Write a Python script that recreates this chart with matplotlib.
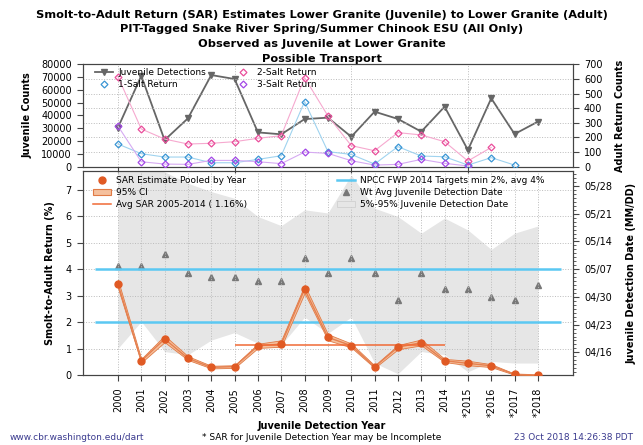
import numpy as np
import matplotlib
matplotlib.use("Agg")
import matplotlib.pyplot as plt
from matplotlib.lines import Line2D
from matplotlib.patches import Patch

# data
years = list(range(2000, 2019))
year_labels = [str(y) for y in range(2000, 2015)] + ["*2015", "*2016", "*2017", "*2018"]

juv_counts = [30500, 71000, 20800, 37800, 71600, 68500, 26800, 25300, 37200, 38300,
              23400, 43000, 37300, 27400, 46900, 13000, 53400, 25500, 35200]

salt1 = [155, 89, 66, 66, 27, 27, 50, 75, 445, 103, 84, 18, 137, 73, 68, 11, 62, 11]
salt2 = [616, 258, 189, 155, 160, 171, 194, 212, 609, 347, 144, 109, 233, 217, 171, 39, 132]
salt3 = [278, 34, 18, 16, 43, 43, 34, 21, 100, 91, 41, 11, 16, 50, 23, 5]

sar = [3.44, 0.54, 1.37, 0.64, 0.30, 0.33, 1.11, 1.18, 3.25, 1.43,
       1.12, 0.32, 1.06, 1.23, 0.55, 0.45, 0.36, 0.04, 0.01]
sar_lo = [3.30, 0.48, 1.25, 0.58, 0.26, 0.28, 1.03, 1.08, 3.10, 1.32,
          1.05, 0.28, 0.98, 1.13, 0.50, 0.38, 0.31, 0.02, 0.00]
sar_hi = [3.60, 0.62, 1.50, 0.72, 0.36, 0.38, 1.19, 1.32, 3.40, 1.55,
          1.20, 0.37, 1.14, 1.35, 0.62, 0.55, 0.42, 0.06, 0.02]
avg_sar = 1.16

# day of year (non leap year): 5%, weighted avg, 95%
det_lo = [107.0, 113.8, 106.2, 105.4, 109.1, 111.0, 108.3, 107.9, 114.9, 110.8,
          114.9, 103.3, 100.6, 106.2, 105.4, 101.1, 103.7, 103.3, 103.3]
det_avg = [127.9, 127.9, 130.9, 126.0, 125.0, 125.0, 123.9, 123.9, 129.8, 126.0,
           129.9, 126.0, 119.2, 126.0, 122.0, 122.0, 120.0, 119.2, 123.0]
det_hi = [155.0, 153.0, 151.6, 148.7, 146.6, 144.9, 140.3, 138.0, 142.0, 141.2,
          150.8, 142.4, 140.3, 136.1, 139.9, 136.9, 132.0, 136.1, 137.9]

date_ticks = [106, 113, 120, 127, 134, 141, 148]
date_labels = ["04/16", "04/23", "04/30", "05/07", "05/14", "05/21", "05/28"]

plt.rcParams['font.family'] = ['DejaVu Sans']
fig = plt.figure(figsize=(6.43, 4.45), dpi=100)

spine_col = "#444444"
grid_kw = dict(color="#bbbbbb", linestyle=":", linewidth=0.7)
lab_kw = dict(fontsize=7, fontweight="bold")

# ---------- top panel ----------
ax1 = fig.add_axes([0.129, 0.6254, 0.762, 0.2301])
ax1r = ax1.twinx()

ln_juv, = ax1.plot(years, juv_counts, color="#666666", lw=1.3, marker="v",
                   ms=5, label="Juvenile Detections", zorder=3)
ax1r.plot(years[:len(salt1)], salt1, color="#9fd3ef", lw=0.8, zorder=2)
ax1r.plot(years[:len(salt1)], salt1, ls="none", marker="D", ms=3.5, mfc="none",
          mec="#3a95d4", mew=0.9, zorder=3)
ax1r.plot(years[:len(salt2)], salt2, color="#f6a9cf", lw=0.8, zorder=2)
ax1r.plot(years[:len(salt2)], salt2, ls="none", marker="D", ms=3.5, mfc="none",
          mec="#ea4d9b", mew=0.9, zorder=3)
ax1r.plot(years[:len(salt3)], salt3, color="#d6aaf2", lw=0.8, zorder=2)
ax1r.plot(years[:len(salt3)], salt3, ls="none", marker="D", ms=3.5, mfc="none",
          mec="#a347e6", mew=0.9, zorder=3)

ax1.set_xlim(1998.5, 2019.5)
ax1.set_ylim(0, 80000)
ax1r.set_ylim(0, 700)
ax1.set_yticks(range(0, 80001, 10000))
ax1r.set_yticks(range(0, 701, 100))
ax1.set_xticks([2000, 2005, 2010, 2015])
ax1.set_xticklabels([])
ax1.xaxis.grid(True, **grid_kw)
ax1r.yaxis.grid(True, **grid_kw)
ax1.set_ylabel("Juvenile Counts", **lab_kw)
ax1r.set_ylabel("Adult Return Counts", **lab_kw)
ax1.yaxis.set_label_coords(-0.114, 0.5)
ax1r.yaxis.set_label_coords(1.096, 0.5)
for a in (ax1, ax1r):
    a.yaxis.label.set_va("center")
    a.tick_params(labelsize=7, length=4, color=spine_col, pad=4)
    for s in a.spines.values():
        s.set_color(spine_col)

h_top = [ln_juv,
         Line2D([], [], ls="none", marker="D", ms=3.5, mfc="none", mec="#3a95d4", mew=0.9),
         Line2D([], [], ls="none", marker="D", ms=3.5, mfc="none", mec="#ea4d9b", mew=0.9),
         Line2D([], [], ls="none", marker="D", ms=3.5, mfc="none", mec="#a347e6", mew=0.9)]
ax1r.legend(h_top, ["Juvenile Detections", "1-Salt Return", "2-Salt Return", "3-Salt Return"],
            ncol=2, frameon=False, fontsize=6.5, loc="upper left",
            bbox_to_anchor=(0.024, 0.96), borderaxespad=0, borderpad=0,
            handlelength=2, handletextpad=0.6, labelspacing=0.3, columnspacing=3.1)

# ---------- bottom panel ----------
ax = fig.add_axes([0.129, 0.1566, 0.762, 0.4591])
ax2 = ax.twinx()
ax.set_zorder(ax2.get_zorder() + 1)
ax.patch.set_visible(False)

ax2.fill_between(years, det_lo, det_hi, color="#e6e6e6", lw=0, zorder=1)
ax2.plot(years, det_avg, ls="none", marker="^", ms=5, color="#777777", zorder=3)

ax.hlines([2, 4], 1999, 2019, color="#5bc8f2", lw=1.8, zorder=2)
ax.fill_between(years, sar_lo, sar_hi, color="#f5c09d", edgecolor="#e07a45",
                lw=0.6, zorder=3)
ax.plot(years, sar, color="#e58050", lw=1.0, zorder=4)
ax.plot(years, sar, ls="none", marker="o", ms=5, color="#e05a24", zorder=5)
ax.hlines(avg_sar, 2005, 2014, color="#f06a35", lw=1.1, zorder=4)

ax.set_xlim(1998.5, 2019.5)
ax.set_ylim(0, 7.7)
ax2.set_ylim(100.2, 151.8)
ax.set_yticks(range(0, 8))
ax2.set_yticks(date_ticks)
ax2.set_yticklabels(date_labels)
ax2.set_yticks(range(101, 152), minor=True)
ax.set_xticks(years)
ax.set_xticklabels(year_labels, rotation=90)
ax.xaxis.grid(True, **grid_kw)
ax.yaxis.grid(True, **grid_kw)
ax.set_ylabel("Smolt-to-Adult Return (%)", **lab_kw)
ax2.set_ylabel("Juvenile Detection Date (MM/DD)", **lab_kw)
ax.yaxis.set_label_coords(-0.067, 0.5)
ax2.yaxis.set_label_coords(1.12, 0.5)
for a in (ax, ax2):
    a.yaxis.label.set_va("center")
    a.tick_params(labelsize=7, length=4, color=spine_col, pad=4)
    for s in a.spines.values():
        s.set_color(spine_col)
ax2.tick_params(axis="y", which="minor", length=2, color=spine_col)
ax.tick_params(axis="x", pad=5)
fig.text(0.5, 1 - 426 / 445, "Juvenile Detection Year", ha="center", va="center", **lab_kw)

h_left = [Line2D([], [], ls="none", marker="o", ms=5, color="#e05a24"),
          Patch(facecolor="#f5c09d", edgecolor="#e07a45", lw=0.8),
          Line2D([], [], color="#f06a35", lw=1.1)]
leg1 = ax.legend(h_left, ["SAR Estimate Pooled by Year", "95% CI", "Avg SAR 2005-2014 ( 1.16%)"],
                 frameon=False, fontsize=6.5, loc="upper left", bbox_to_anchor=(0.02, 0.975),
                 borderaxespad=0, borderpad=0, handlelength=2, handletextpad=0.6,
                 labelspacing=0.35)
ax.add_artist(leg1)
h_right = [Line2D([], [], color="#5bc8f2", lw=1.8),
           Line2D([], [], ls="none", marker="^", ms=5, color="#777777"),
           Patch(facecolor="#e6e6e6", edgecolor="#cccccc", lw=0.5)]
ax.legend(h_right, ["NPCC FWP 2014 Targets min 2%, avg 4%", "Wt Avg Juvenile Detection Date",
                    "5%-95% Juvenile Detection Date"],
          frameon=False, fontsize=6.5, loc="upper left", bbox_to_anchor=(0.518, 0.975),
          borderaxespad=0, borderpad=0, handlelength=2, handletextpad=0.6,
          labelspacing=0.35)

# titles and footer
titles = ["Smolt-to-Adult Return (SAR) Estimates Lower Granite (Juvenile) to Lower Granite (Adult)",
          "PIT-Tagged Snake River Spring/Summer Chinook ESU (All Only)",
          "Observed as Juvenile at Lower Granite",
          "Possible Transport"]
for i, t in enumerate(titles):
    fig.text(0.5, 1 - (15 + i * 14.5) / 445, t, ha="center", va="center",
             fontsize=8.2, fontweight="bold")

fig.text(10 / 643, 1 - 438 / 445, "www.cbr.washington.edu/dart", fontsize=6.5,
         color="#3b3b8f", va="center")
fig.text(0.5, 1 - 438 / 445, "* SAR for Juvenile Detection Year may be Incomplete",
         fontsize=6.5, ha="center", va="center")
fig.text(633 / 643, 1 - 438 / 445, "23 Oct 2018 14:26:38 PDT", fontsize=6.5,
         color="#3b3b8f", ha="right", va="center")

plt.savefig("out.png", dpi=100)
